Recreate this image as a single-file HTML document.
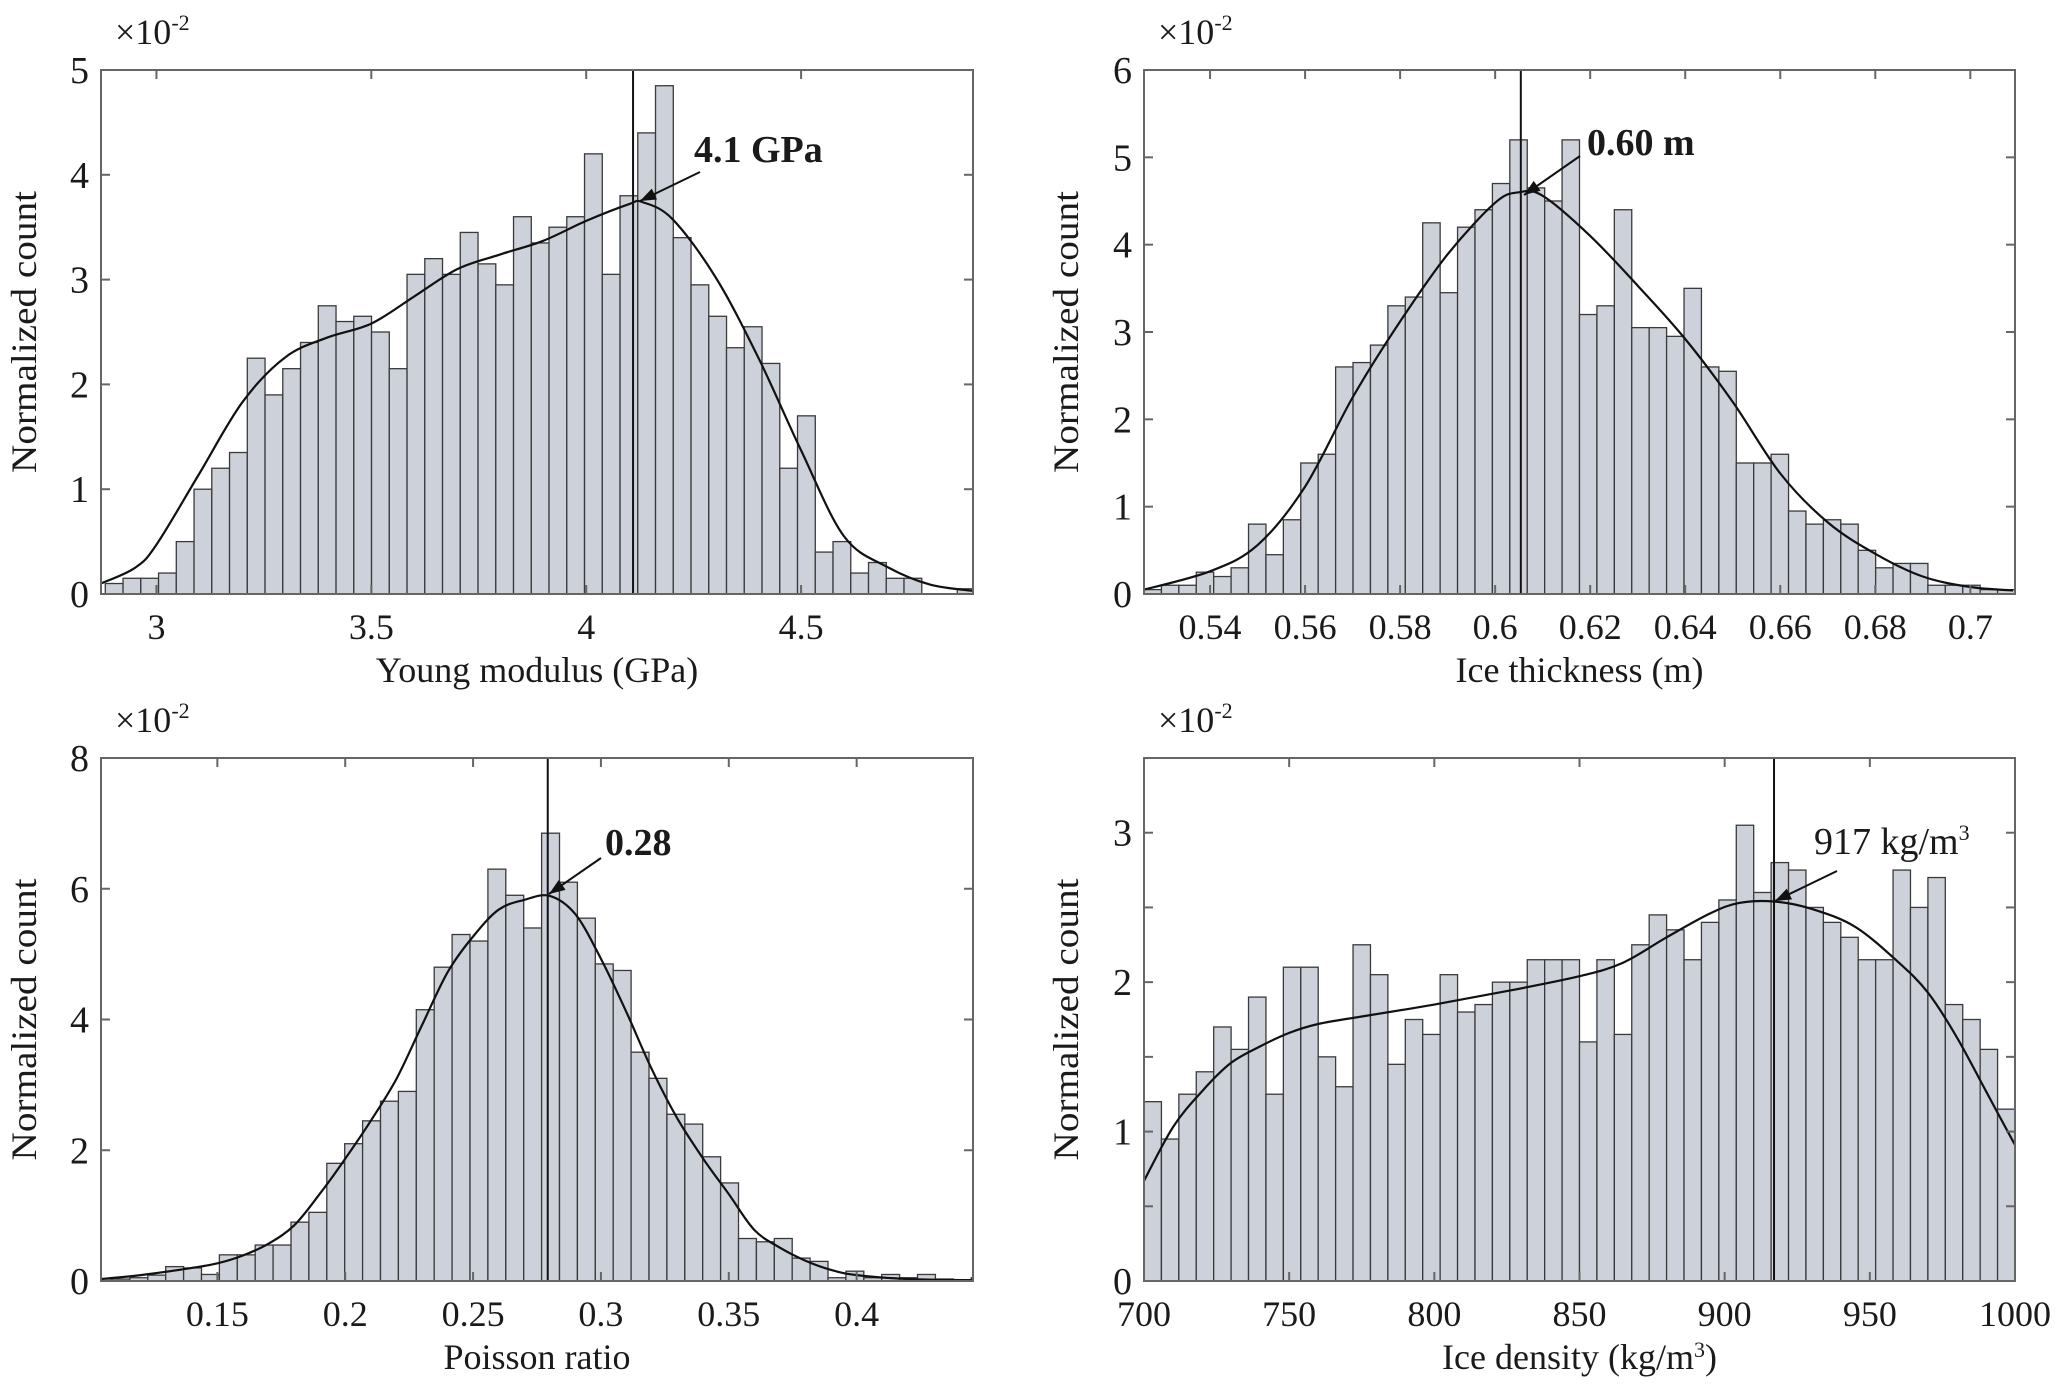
<!DOCTYPE html>
<html><head><meta charset="utf-8"><style>
html,body{margin:0;padding:0;background:#fff;}
svg{display:block;}
text{font-family:"Liberation Serif","Times New Roman",serif;fill:#1a1a1a;}
</style></head><body>
<svg id="fig" width="2067" height="1397" viewBox="0 0 2067 1397" xmlns="http://www.w3.org/2000/svg"></svg>
<script>
// ---------- Panel A: Young modulus ----------
const youngBinStart = 2.881, youngBinWidth = 0.0413;
const youngCounts = [0.1,0.15,0.15,0.2,0.5,1.0,1.2,1.35,2.25,1.9,2.15,2.4,2.75,2.6,2.65,2.5,2.15,3.05,3.2,3.05,3.45,3.15,2.95,3.6,3.35,3.5,3.6,4.2,3.05,3.8,4.4,4.85,3.4,2.95,2.65,2.35,2.55,2.2,1.2,1.7,0.4,0.5,0.2,0.3,0.15,0.15,0,0,0.05];
const youngCurveX = [2.871,2.95,3.0,3.1,3.2,3.3,3.4,3.5,3.6,3.7,3.8,3.9,4.0,4.1,4.13,4.2,4.3,4.4,4.5,4.6,4.7,4.8,4.9];
const youngCurveY = [0.1,0.25,0.47,1.15,1.83,2.26,2.45,2.58,2.84,3.1,3.24,3.37,3.56,3.72,3.74,3.58,3.03,2.26,1.37,0.55,0.26,0.09,0.03];
const youngXTicks = [3,3.5,4,4.5];
const youngXTickLabels = ["3","3.5","4","4.5"];
const youngYTicks = [0,1,2,3,4,5];
const youngYTickLabels = ["0","1","2","3","4","5"];
const youngMode = 4.109;

// ---------- Panel B: Ice thickness ----------
const thickBinStart = 0.5261, thickBinWidth = 0.003666;
const thickCounts = [0.05,0.1,0.1,0.25,0.2,0.3,0.8,0.45,0.85,1.5,1.6,2.6,2.65,2.85,3.3,3.4,4.25,3.45,4.2,4.4,4.7,5.2,4.65,4.5,5.2,3.2,3.3,4.4,3.05,3.05,2.95,3.5,2.6,2.55,1.5,1.5,1.6,0.95,0.8,0.85,0.8,0.5,0.3,0.35,0.35,0.1,0.1,0.1,0.05,0.05];
const thickCurveX = [0.5261,0.54,0.55,0.56,0.57,0.58,0.59,0.60,0.605,0.61,0.62,0.63,0.64,0.65,0.66,0.67,0.68,0.69,0.70,0.709];
const thickCurveY = [0.05,0.26,0.56,1.23,2.25,3.12,3.89,4.48,4.6,4.56,4.1,3.53,2.92,2.2,1.38,0.82,0.46,0.2,0.08,0.04];
const thickXTicks = [0.54,0.56,0.58,0.6,0.62,0.64,0.66,0.68,0.7];
const thickXTickLabels = ["0.54","0.56","0.58","0.6","0.62","0.64","0.66","0.68","0.7"];
const thickYTicks = [0,1,2,3,4,5,6];
const thickYTickLabels = ["0","1","2","3","4","5","6"];
const thickMode = 0.6054;

// ---------- Panel C: Poisson ratio ----------
const poisBinStart = 0.1018, poisBinWidth = 0.0070;
const poisCounts = [0.03,0.03,0.05,0.09,0.22,0.2,0.1,0.4,0.4,0.55,0.55,0.9,1.05,1.8,2.1,2.45,2.75,2.9,4.15,4.8,5.3,5.2,6.3,5.9,5.4,6.85,6.1,5.55,4.85,4.75,3.5,3.1,2.55,2.4,1.9,1.5,0.65,0.6,0.65,0.35,0.3,0.05,0.15,0.05,0.1,0.05,0.1,0.03,0.02,0.05];
const poisCurveX = [0.1045,0.12,0.14,0.15,0.16,0.17,0.18,0.19,0.2,0.21,0.22,0.23,0.24,0.25,0.26,0.27,0.28,0.29,0.30,0.31,0.32,0.33,0.34,0.35,0.36,0.37,0.38,0.39,0.40,0.42,0.4455];
const poisCurveY = [0.03,0.09,0.2,0.27,0.39,0.57,0.85,1.33,1.87,2.45,3.09,3.91,4.72,5.27,5.68,5.83,5.89,5.61,4.93,4.11,3.23,2.48,1.87,1.33,0.78,0.51,0.31,0.17,0.09,0.03,0.01];
const poisXTicks = [0.15,0.2,0.25,0.3,0.35,0.4];
const poisXTickLabels = ["0.15","0.2","0.25","0.3","0.35","0.4"];
const poisYTicks = [0,2,4,6,8];
const poisYTickLabels = ["0","2","4","6","8"];
const poisMode = 0.2792;

// ---------- Panel D: Ice density ----------
const densBinStart = 700, densBinWidth = 6;
const densCounts = [1.2,0.95,1.25,1.4,1.7,1.55,1.9,1.25,2.1,2.1,1.5,1.3,2.25,2.05,1.45,1.75,1.65,2.05,1.8,1.85,2.0,2.0,2.15,2.15,2.15,1.6,2.15,1.65,2.25,2.45,2.35,2.15,2.4,2.55,3.05,2.6,2.8,2.75,2.5,2.4,2.3,2.15,2.15,2.75,2.5,2.7,1.85,1.75,1.55,1.15];
const densCurveX = [700,710,720,730,740,750,760,775,800,825,850,865,880,895,905,917,930,945,960,970,980,990,1000];
const densCurveY = [0.67,1.03,1.27,1.46,1.57,1.66,1.72,1.77,1.85,1.94,2.04,2.13,2.30,2.46,2.53,2.54,2.49,2.37,2.13,1.93,1.63,1.27,0.91];
const densXTicks = [700,750,800,850,900,950,1000];
const densXTickLabels = ["700","750","800","850","900","950","1000"];
const densYTicks = [0,0.5,1,1.5,2,2.5,3,3.5];
const densYTickLabels = ["0","","1","","2","","3",""];
const densMode = 917;

const NS = "http://www.w3.org/2000/svg";
const FONT = '"Liberation Serif","Times New Roman",serif';
const svg = document.getElementById('fig');
function mk(tag, attrs, parent){
  const e = document.createElementNS(NS, tag);
  for (const k in attrs) e.setAttribute(k, attrs[k]);
  if (tag === 'text') e.setAttribute('font-family', FONT);
  (parent||svg).appendChild(e);
  return e;
}
function smoothPath(pts){
  let d = "M" + pts[0][0].toFixed(1) + "," + pts[0][1].toFixed(1);
  for (let i=0;i<pts.length-1;i++){
    const p0=pts[Math.max(0,i-1)], p1=pts[i], p2=pts[i+1], p3=pts[Math.min(pts.length-1,i+2)];
    const c1x=p1[0]+(p2[0]-p0[0])/6, c1y=p1[1]+(p2[1]-p0[1])/6;
    const c2x=p2[0]-(p3[0]-p1[0])/6, c2y=p2[1]-(p3[1]-p1[1])/6;
    d += " C"+c1x.toFixed(1)+","+c1y.toFixed(1)+" "+c2x.toFixed(1)+","+c2y.toFixed(1)+" "+p2[0].toFixed(1)+","+p2[1].toFixed(1);
  }
  return d;
}

function panel(o){
  const g = mk('g', {});
  
  
  const X = v => o.L + (v - o.xmin) / (o.xmax - o.xmin) * (o.R - o.L);
  const Y = v => o.B - (v - o.ymin) / (o.ymax - o.ymin) * (o.B - o.T);
  const cid = 'clip-' + o.name;
  const defs = mk('defs', {}, g);
  const cp = mk('clipPath', {id: cid}, defs);
  mk('rect', {x:o.L, y:o.T, width:o.R-o.L, height:o.B-o.T}, cp);
  const bars = mk('g', {'clip-path':'url(#'+cid+')'}, g);
  
  
  o.counts.forEach((c, i) => {
    if (c <= 0) return;
    const x0 = X(o.binStart + i*o.binWidth), x1 = X(o.binStart + (i+1)*o.binWidth);
    const r = mk('rect', {x:x0, y:Y(c), width:x1-x0, height:Y(0)-Y(c), fill:'#cdd1d9', stroke:'#3a3a3a', 'stroke-width':1.3}, bars);
    
    
  });
  const pts = o.cx.map((v,i)=>[X(v), Y(o.cy[i])]);
  const curve = mk('path', {d:smoothPath(pts), fill:'none', stroke:'#111', 'stroke-width':2.2, 'clip-path':'url(#'+cid+')'}, g);
  
  
  const vl = mk('line', {x1:X(o.mode), x2:X(o.mode), y1:o.T, y2:o.B, stroke:'#111', 'stroke-width':2}, g);
  
  
  const box = mk('rect', {x:o.L, y:o.T, width:o.R-o.L, height:o.B-o.T, fill:'none', stroke:'#666', 'stroke-width':2}, g);
  
  
  o.xt.forEach((v,i)=>{
    const x = X(v);
    mk('line', {x1:x,x2:x,y1:o.B,y2:o.B-9,stroke:'#666','stroke-width':2}, g);
    mk('line', {x1:x,x2:x,y1:o.T,y2:o.T+9,stroke:'#666','stroke-width':2}, g);
    const t = mk('text', {x:x, y:o.B+45, 'text-anchor':'middle', 'font-size':36}, g);
    t.textContent = o.xtl[i];
    
    
  });
  o.yt.forEach((v,i)=>{
    const y = Y(v);
    mk('line', {x1:o.L,x2:o.L+9,y1:y,y2:y,stroke:'#666','stroke-width':2}, g);
    mk('line', {x1:o.R,x2:o.R-9,y1:y,y2:y,stroke:'#666','stroke-width':2}, g);
    if (o.ytl[i] !== "") {
      const t = mk('text', {x:o.L-12, y:y+13, 'text-anchor':'end', 'font-size':38}, g);
      t.textContent = o.ytl[i];
      
      
    }
  });
  const ex = mk('text', {x:o.L+14, y:o.T-26, 'font-size':36}, g);
  ex.textContent = "×10";
  
  
  const ts = mk('tspan', {dy:-14, 'font-size':22}, ex);
  ts.textContent = "-2";
  const xl = mk('text', {x:(o.L+o.R)/2, y:o.B+88, 'text-anchor':'middle', 'font-size':36}, g);
  xl.innerHTML = o.xlabel;
  
  
  const cyc = (o.T+o.B)/2;
  const yl = mk('text', {x:o.ylx, y:cyc, 'text-anchor':'middle', 'font-size':36, transform:'rotate(-90 '+o.ylx+' '+cyc+')', textLength:282, lengthAdjust:'spacingAndGlyphs'}, g);
  yl.textContent = "Normalized count";
  
  
  const an = mk('text', {x:o.ax, y:o.ay, 'font-size':38, 'font-weight':o.bold?'bold':'normal'}, g);
  an.innerHTML = o.atext;
  
  
  const ar = mk('line', {x1:o.a1[0], y1:o.a1[1], x2:o.a2[0], y2:o.a2[1], stroke:'#111', 'stroke-width':2}, g);
  
  
  const ang = Math.atan2(o.a2[1]-o.a1[1], o.a2[0]-o.a1[0]);
  const hl = 16, hw = 6;
  const bx = o.a2[0]-hl*Math.cos(ang), by = o.a2[1]-hl*Math.sin(ang);
  const head = mk('polygon', {points:[o.a2[0]+','+o.a2[1], (bx+hw*Math.sin(ang))+','+(by-hw*Math.cos(ang)), (bx-hw*Math.sin(ang))+','+(by+hw*Math.cos(ang))].join(' '), fill:'#111'}, g);
  
  
}

panel({name:'young-modulus-panel', L:101, R:973, T:70, B:594, xmin:2.871, xmax:4.900, ymin:0, ymax:5,
  binStart:youngBinStart, binWidth:youngBinWidth, counts:youngCounts, cx:youngCurveX, cy:youngCurveY,
  xt:youngXTicks, xtl:youngXTickLabels, yt:youngYTicks, ytl:youngYTickLabels, mode:youngMode,
  xlabel:'Young modulus (GPa)', ylx:36, atext:'4.1 GPa', bold:true, ax:694, ay:162, a1:[700,172], a2:[640,201]});
panel({name:'ice-thickness-panel', L:1144, R:2015, T:70, B:594, xmin:0.5261, xmax:0.7094, ymin:0, ymax:6,
  binStart:thickBinStart, binWidth:thickBinWidth, counts:thickCounts, cx:thickCurveX, cy:thickCurveY,
  xt:thickXTicks, xtl:thickXTickLabels, yt:thickYTicks, ytl:thickYTickLabels, mode:thickMode,
  xlabel:'Ice thickness (m)', ylx:1078, atext:'0.60 m', bold:true, ax:1587, ay:155, a1:[1580,156], a2:[1524,195]});
panel({name:'poisson-ratio-panel', L:101, R:973, T:758, B:1281, xmin:0.1045, xmax:0.4455, ymin:0, ymax:8,
  binStart:poisBinStart, binWidth:poisBinWidth, counts:poisCounts, cx:poisCurveX, cy:poisCurveY,
  xt:poisXTicks, xtl:poisXTickLabels, yt:poisYTicks, ytl:poisYTickLabels, mode:poisMode,
  xlabel:'Poisson ratio', ylx:36, atext:'0.28', bold:true, ax:605, ay:855, a1:[601,858], a2:[549,894]});
panel({name:'ice-density-panel', L:1144, R:2015, T:758, B:1281, xmin:700, xmax:1000, ymin:0, ymax:3.5,
  binStart:densBinStart, binWidth:densBinWidth, counts:densCounts, cx:densCurveX, cy:densCurveY,
  xt:densXTicks, xtl:densXTickLabels, yt:densYTicks, ytl:densYTickLabels, mode:densMode,
  xlabel:'Ice density (kg/m<tspan dy="-12" font-size="22">3</tspan><tspan dy="12">)</tspan>', ylx:1078,
  atext:'917 kg/m<tspan dy="-14" font-size="22">3</tspan>', bold:false, ax:1814, ay:854, a1:[1837,871], a2:[1775,901]});
</script>
</body></html>
